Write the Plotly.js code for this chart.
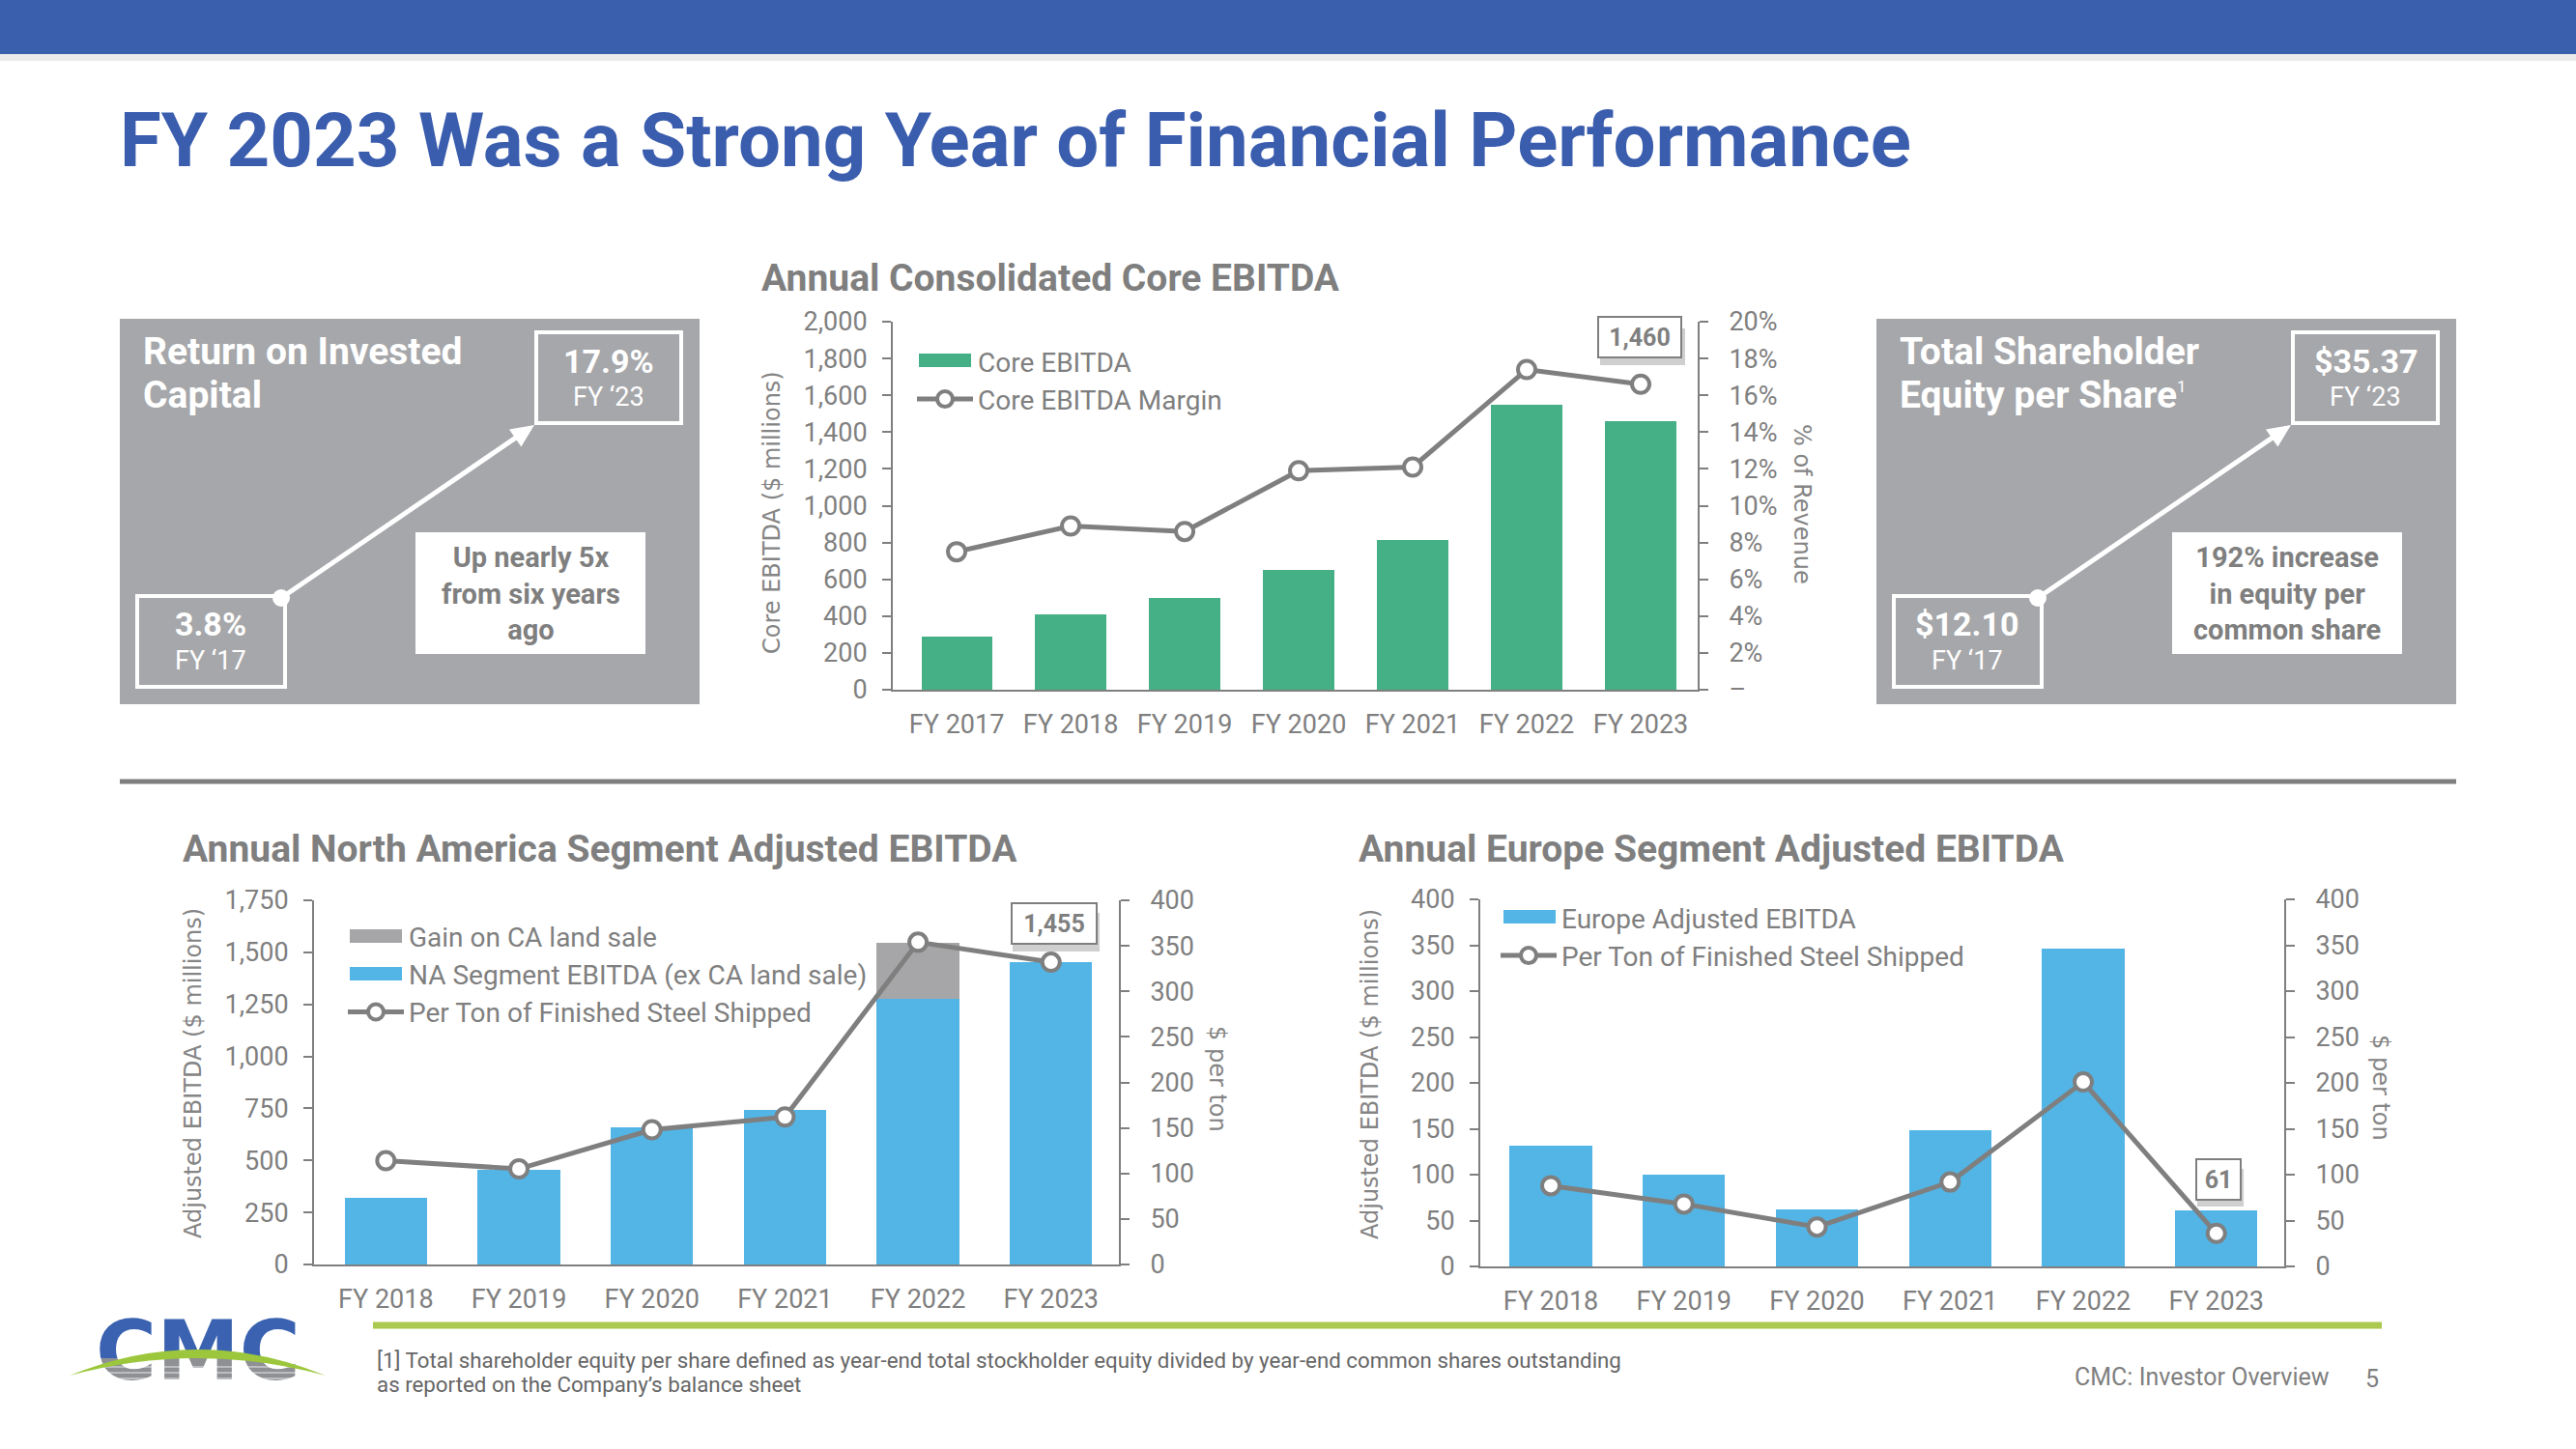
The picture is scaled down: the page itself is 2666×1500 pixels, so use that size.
<!DOCTYPE html>
<html><head><meta charset="utf-8">
<script src="https://cdn.plot.ly/plotly-3.0.1.min.js"></script>
<style>html,body{margin:0;padding:0;background:#fff;overflow:hidden;} #chart{width:2666px;height:1500px;}</style>
</head><body><div id="chart"></div>
<script>
// ---------- DATA ----------
const years7 = ['FY 2017','FY 2018','FY 2019','FY 2020','FY 2021','FY 2022','FY 2023'];
const coreEbitda = [290, 411, 500, 651, 814, 1550, 1460];
const coreMargin = [7.5, 8.9, 8.6, 11.9, 12.1, 17.4, 16.6];
const years6 = ['FY 2018','FY 2019','FY 2020','FY 2021','FY 2022','FY 2023'];
const naEbitda = [322, 453, 657, 744, 1278, 1455];
const naGain = [null, null, null, null, 269, null];
const naPerTon = [114, 105, 148, 162, 354, 332];
const euEbitda = [132, 100, 62, 148, 346, 61];
const euPerTon = [88, 68, 43, 92, 201, 36];
const ebitdaTicks = [0,200,400,600,800,1000,1200,1400,1600,1800,2000];
const marginTickVals = [0,2,4,6,8,10,12,14,16,18,20];
const marginTickText = ['–','2%','4%','6%','8%','10%','12%','14%','16%','18%','20%'];
const naTicks = [0,250,500,750,1000,1250,1500,1750];
const perTonTicks = [0,50,100,150,200,250,300,350,400];
const euTicks = [0,50,100,150,200,250,300,350,400];

// ---------- HELPERS ----------
const W = 2666, H = 1500;
const X = p => p / W;
const Y = p => 1 - p / H;
const GRAY = '#7F7F7F';
const BLUE_T = '#3A5DAE';
const GREEN = '#45B085', LBLUE = '#52B5E6', LGRAY = '#A6A6A8';
const tickFont = {family: 'Roboto', size: 27, color: GRAY};
const legFont = {family: 'Roboto', size: 28, color: GRAY};

function xAx(x0, x1, anchor, range) {
  return {domain: [X(x0), X(x1)], anchor: anchor, type: 'category', range: range, showline: true, linecolor: GRAY,
    linewidth: 2, ticks: '', tickfont: tickFont, ticklabelstandoff: 11, showgrid: false, zeroline: false, fixedrange: true};
}
function yAx(top, bottom, anchor, range, tickvals, extra) {
  return Object.assign({domain: [Y(bottom), Y(top)], anchor: anchor, range: range, tickvals: tickvals,
    tickformat: ',', ticks: 'outside', ticklen: 9, tickwidth: 2, tickcolor: GRAY, showline: true,
    linecolor: GRAY, linewidth: 2, showgrid: false, zeroline: false, tickfont: tickFont,
    ticklabelstandoff: 10, fixedrange: true}, extra || {});
}

const lineStyle = {color: GRAY, width: 5};
const markerStyle = {symbol: 'circle', size: 18, color: '#ffffff', line: {color: GRAY, width: 4}};

const traces = [
  {type: 'bar', x: years7, y: coreEbitda, xaxis: 'x', yaxis: 'y', name: 'Core EBITDA',
   marker: {color: GREEN}, legend: 'legend', legendrank: 1},
  {type: 'scatter', mode: 'lines+markers', x: years7, y: coreMargin, xaxis: 'x', yaxis: 'y2',
   name: 'Core EBITDA Margin', line: lineStyle, marker: markerStyle, legend: 'legend', legendrank: 2, cliponaxis: false},
  {type: 'bar', x: years6, y: naEbitda, xaxis: 'x2', yaxis: 'y3', name: 'NA Segment EBITDA (ex CA land sale)',
   marker: {color: LBLUE}, legend: 'legend2', legendrank: 2},
  {type: 'bar', x: years6, y: naGain, xaxis: 'x2', yaxis: 'y3', name: 'Gain on CA land sale',
   marker: {color: LGRAY}, legend: 'legend2', legendrank: 1},
  {type: 'scatter', mode: 'lines+markers', x: years6, y: naPerTon, xaxis: 'x2', yaxis: 'y4',
   name: 'Per Ton of Finished Steel Shipped', line: lineStyle, marker: markerStyle, legend: 'legend2', legendrank: 3, cliponaxis: false},
  {type: 'bar', x: years6, y: euEbitda, xaxis: 'x3', yaxis: 'y5', name: 'Europe Adjusted EBITDA',
   marker: {color: LBLUE}, legend: 'legend3', legendrank: 1},
  {type: 'scatter', mode: 'lines+markers', x: years6, y: euPerTon, xaxis: 'x3', yaxis: 'y6',
   name: 'Per Ton of Finished Steel Shipped', line: lineStyle, marker: markerStyle, legend: 'legend3', legendrank: 2, cliponaxis: false},
  // logo lettering (upper blue half / lower gray half, clipped by their subplots)
  {type: 'scatter', mode: 'text', x: [0.5], y: [0], text: ['CMC'], xaxis: 'x4', yaxis: 'y7', cliponaxis: true,
   textposition: 'middle center', textfont: {family: 'DejaVu Sans', size: 86, color: '#3A62B0', weight: 'bold'},
   showlegend: false, hoverinfo: 'skip'},
  {type: 'scatter', mode: 'text', x: [0.5], y: [1], text: ['CMC'], xaxis: 'x5', yaxis: 'y8', cliponaxis: true,
   textposition: 'middle center', textfont: {family: 'DejaVu Sans', size: 86, color: '#8E9094', weight: 'bold'},
   showlegend: false, hoverinfo: 'skip'}
];

function legendAt(x, y) {
  return {x: X(x), y: Y(y), xanchor: 'left', yanchor: 'top', bgcolor: 'rgba(0,0,0,0)', borderwidth: 0,
    font: legFont, itemwidth: 58, tracegroupgap: 0, traceorder: 'normal'};
}

function ann(text, x, y, o) {
  return Object.assign({text: text, x: X(x), y: Y(y), xref: 'paper', yref: 'paper', showarrow: false,
    xanchor: 'center', yanchor: 'middle', font: {family: 'Roboto', size: 27, color: GRAY}}, o || {});
}
function axisTitle(text, x, y, angle) {
  return ann(text, x, y, {textangle: angle, font: {family: 'DejaVu Sans', size: 24, color: '#858585'}});
}
function valueBox(text, x, y, w) {
  return ann('<b>' + text + '</b>', x, y, {bgcolor: '#ffffff', bordercolor: GRAY, borderwidth: 2, borderpad: 5,
    width: w, height: 30, font: {family: 'Roboto', size: 25, color: GRAY}});
}
const titleFont = {family: 'Roboto', size: 39, color: GRAY};

const annotations = [
  ann('<b>FY 2023 Was a Strong Year of Financial Performance</b>', 122, 145,
      {xanchor: 'left', font: {family: 'Roboto', size: 78, color: BLUE_T}}),
  ann('<b>Annual Consolidated Core EBITDA</b>', 786, 288, {xanchor: 'left', font: titleFont}),
  ann('<b>Annual North America Segment Adjusted EBITDA</b>', 187, 879, {xanchor: 'left', font: titleFont}),
  ann('<b>Annual Europe Segment Adjusted EBITDA</b>', 1404, 879, {xanchor: 'left', font: titleFont}),
  axisTitle('Core EBITDA ($ millions)', 799, 531, -90),
  axisTitle('% of Revenue', 1865, 522, 90),
  axisTitle('Adjusted EBITDA ($ millions)', 200, 1111, -90),
  axisTitle('$ per ton', 1260, 1117, 90),
  axisTitle('Adjusted EBITDA ($ millions)', 1418, 1112, -90),
  axisTitle('$ per ton', 2464, 1126, 90),
  valueBox('1,460', 1697, 349, 74),
  valueBox('1,455', 1091, 956, 76),
  valueBox('61', 2296, 1221, 34),
  // footer
  ann('[1] Total shareholder equity per share defined as year-end total stockholder equity divided by year-end common shares outstanding',
      388, 1408, {xanchor: 'left', font: {family: 'Roboto', size: 22.3, color: '#666666'}}),
  ann('as reported on the Company’s balance sheet', 388, 1433, {xanchor: 'left', font: {family: 'Roboto', size: 22.3, color: '#666666'}}),
  ann('CMC: Investor Overview', 2413, 1425, {xanchor: 'right', font: {family: 'Roboto', size: 25, color: GRAY}}),
  ann('5', 2455, 1427, {font: {family: 'Roboto', size: 25, color: GRAY}})
];

const shapes = [
  {type: 'rect', xref: 'paper', yref: 'paper', x0: 0, x1: 1, y0: Y(63), y1: Y(56), fillcolor: '#000', opacity: 0.08, line: {width: 0}},
  {type: 'rect', xref: 'paper', yref: 'paper', x0: 0, x1: 1, y0: Y(56), y1: 1, fillcolor: '#3A5FAD', line: {width: 0}},
  {type: 'line', xref: 'paper', yref: 'paper', x0: X(124), x1: X(2542), y0: Y(809), y1: Y(809), line: {color: GRAY, width: 5}},
  {type: 'line', xref: 'paper', yref: 'paper', x0: X(386), x1: X(2465), y0: Y(1372), y1: Y(1372), line: {color: '#AAC94E', width: 7}},
  // value box shadows
  {type: 'rect', xref: 'paper', yref: 'paper', layer: 'below', x0: X(1656), x1: X(1744), y0: Y(378), y1: Y(340), fillcolor: '#cfcfcf', line: {width: 0}},
  {type: 'rect', xref: 'paper', yref: 'paper', layer: 'below', x0: X(1048), x1: X(1138), y0: Y(985), y1: Y(945), fillcolor: '#cfcfcf', line: {width: 0}},
  {type: 'rect', xref: 'paper', yref: 'paper', layer: 'below', x0: X(2274), x1: X(2322), y0: Y(1249), y1: Y(1210), fillcolor: '#cfcfcf', line: {width: 0}},
  // wide legend swatches behind the legend's own square symbols
  {type: 'rect', xref: 'paper', yref: 'paper', x0: X(951), x1: X(1005), y0: Y(380), y1: Y(366), fillcolor: GREEN, line: {width: 0}},
  {type: 'rect', xref: 'paper', yref: 'paper', x0: X(362), x1: X(416), y0: Y(976), y1: Y(962), fillcolor: LGRAY, line: {width: 0}},
  {type: 'rect', xref: 'paper', yref: 'paper', x0: X(362), x1: X(416), y0: Y(1015), y1: Y(1001), fillcolor: LBLUE, line: {width: 0}},
  {type: 'rect', xref: 'paper', yref: 'paper', x0: X(1556), x1: X(1610), y0: Y(956), y1: Y(942), fillcolor: LBLUE, line: {width: 0}},
  // logo swoosh and stripes
  {type: 'line', xref: 'paper', yref: 'paper', x0: X(100), x1: X(310), y0: Y(1415), y1: Y(1415), line: {color: 'rgba(255,255,255,0.55)', width: 1.5}},
  {type: 'line', xref: 'paper', yref: 'paper', x0: X(100), x1: X(310), y0: Y(1421), y1: Y(1421), line: {color: 'rgba(255,255,255,0.55)', width: 1.5}},
  {type: 'line', xref: 'paper', yref: 'paper', x0: X(100), x1: X(310), y0: Y(1427), y1: Y(1427), line: {color: 'rgba(255,255,255,0.55)', width: 1.5}},
  {type: 'line', xref: 'paper', yref: 'paper', x0: X(100), x1: X(310), y0: Y(1433), y1: Y(1433), line: {color: 'rgba(255,255,255,0.55)', width: 1.5}},
  {type: 'path', xref: 'paper', yref: 'paper',
   path: `M ${X(72)} ${Y(1424)} Q ${X(204)} ${Y(1370)} ${X(337)} ${Y(1424)} Q ${X(204)} ${Y(1388)} ${X(72)} ${Y(1424)} Z`,
   fillcolor: '#9CC73C', line: {width: 0}}
];

// arrow drawn as a line plus a triangular head (pixel geometry)
function arrow(tx, ty, hx, hy) {
  const dx = hx - tx, dy = hy - ty, L = Math.hypot(dx, dy);
  const ux = dx / L, uy = dy / L, nx = -uy, ny = ux;
  const hl = 24, hw = 11;
  const bx = hx - hl * ux, by = hy - hl * uy;
  shapes.push(
    {type: 'line', xref: 'paper', yref: 'paper', x0: X(tx), y0: Y(ty), x1: X(bx + 2 * ux), y1: Y(by + 2 * uy), line: {color: '#fff', width: 5}},
    {type: 'path', xref: 'paper', yref: 'paper', fillcolor: '#fff', line: {width: 0},
     path: `M ${X(hx)} ${Y(hy)} L ${X(bx + hw * nx)} ${Y(by + hw * ny)} L ${X(bx - hw * nx)} ${Y(by - hw * ny)} Z`}
  );
}

// KPI boxes (left ROIC, right equity per share)
function kpiBox(dx, title1, title2, topVal, botVal, note) {
  shapes.push(
    {type: 'rect', xref: 'paper', yref: 'paper', x0: X(124 + dx), x1: X(724 + dx), y0: Y(729), y1: Y(330), fillcolor: '#A6A7AA', line: {width: 0}},
    {type: 'rect', xref: 'paper', yref: 'paper', x0: X(555 + dx), x1: X(705 + dx), y0: Y(438), y1: Y(344), line: {color: '#fff', width: 4}},
    {type: 'rect', xref: 'paper', yref: 'paper', x0: X(142 + dx), x1: X(295 + dx), y0: Y(711), y1: Y(617), line: {color: '#fff', width: 4}},
    {type: 'rect', xref: 'paper', yref: 'paper', x0: X(430 + dx), x1: X(668 + dx), y0: Y(677), y1: Y(551), fillcolor: '#fff', line: {width: 0}},
    {type: 'circle', xref: 'paper', yref: 'paper', x0: X(282 + dx), x1: X(300 + dx), y0: Y(628), y1: Y(610), fillcolor: '#fff', line: {width: 0}}
  );
  arrow(291 + dx, 619, 553 + dx, 440);
  annotations.push(
    ann('<b>' + title1 + '</b>', 146 + dx, 364, {xanchor: 'left', font: {family: 'Roboto', size: 39, color: '#fff'}}),
    ann(title2, 146 + dx, 409, {xanchor: 'left', font: {family: 'Roboto', size: 39, color: '#fff'}}),
    ann('<b>' + topVal + '</b>', 630 + dx, 374, {font: {family: 'Roboto', size: 34, color: '#fff'}}),
    ann('FY ‘23', 630 + dx, 411, {font: {family: 'Roboto', size: 27, color: '#fff'}}),
    ann('<b>' + botVal + '</b>', 218 + dx, 646, {font: {family: 'Roboto', size: 34, color: '#fff'}}),
    ann('FY ‘17', 218 + dx, 684, {font: {family: 'Roboto', size: 27, color: '#fff'}}),
    ann('<b>' + note + '</b>', 549 + dx, 614, {font: {family: 'Roboto', size: 29, color: GRAY}})
  );
}
kpiBox(0, 'Return on Invested', '<b>Capital</b>', '17.9%', '3.8%', 'Up nearly 5x<br>from six years<br>ago');
kpiBox(1818, 'Total Shareholder', '<b>Equity per Share</b><sup><span style="font-size:17px">1</span></sup>', '$35.37', '$12.10', '192% increase<br>in equity per<br>common share');

const layout = {
  width: W, height: H, margin: {l: 0, r: 0, t: 0, b: 0, pad: 0},
  paper_bgcolor: '#ffffff', plot_bgcolor: 'rgba(0,0,0,0)',
  barmode: 'stack', bargap: 0.38, hovermode: false,
  font: {family: 'Roboto', color: GRAY},
  xaxis: xAx(924, 1757, 'y', [-0.56, 6.5]),
  yaxis: yAx(333, 714, 'x', [0, 2000], ebitdaTicks),
  yaxis2: yAx(333, 714, 'x', [0, 20], marginTickVals, {overlaying: 'y', side: 'right', ticktext: marginTickText, ticklabelstandoff: 16}),
  xaxis2: xAx(325, 1158, 'y3', [-0.54, 5.51]),
  yaxis3: yAx(932, 1309, 'x2', [0, 1750], naTicks),
  yaxis4: yAx(932, 1309, 'x2', [0, 400], perTonTicks, {overlaying: 'y3', side: 'right', ticklabelstandoff: 16}),
  xaxis3: xAx(1532, 2364, 'y5', [-0.53, 5.51]),
  yaxis5: yAx(931, 1311, 'x3', [0, 400], euTicks),
  yaxis6: yAx(931, 1311, 'x3', [0, 400], perTonTicks, {overlaying: 'y5', side: 'right', ticklabelstandoff: 16}),
  xaxis4: {domain: [X(95), X(315)], range: [0, 1], visible: false, anchor: 'y7', fixedrange: true},
  yaxis7: {domain: [Y(1406), Y(1362)], range: [0, 1], visible: false, anchor: 'x4', fixedrange: true},
  xaxis5: {domain: [X(95), X(315)], range: [0, 1], visible: false, anchor: 'y8', fixedrange: true},
  yaxis8: {domain: [Y(1450), Y(1406)], range: [0, 1], visible: false, anchor: 'x5', fixedrange: true},
  legend: legendAt(944, 349),
  legend2: legendAt(355, 944),
  legend3: legendAt(1548, 925),
  annotations: annotations,
  shapes: shapes
};

Plotly.newPlot('chart', traces, layout, {displayModeBar: false, staticPlot: true});
</script>
</body></html>
